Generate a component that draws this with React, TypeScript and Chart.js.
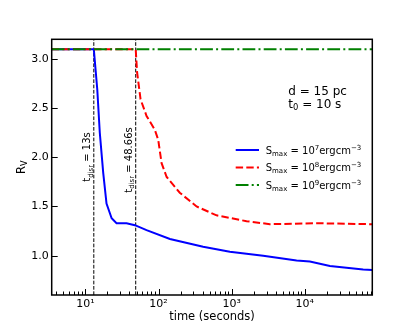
import React, { useEffect, useRef } from 'react';
import { Chart, registerables } from 'chart.js';

Chart.register(...registerables);

// ---- data ----
const blueT = [3.45, 13, 14.5, 15.7, 17.5, 19.4, 22.8, 26.6, 36.5, 47.4, 68.5, 143, 407, 944, 2700, 7730, 11750, 22100, 63000, 84000];
const blueR = [3.1, 3.1, 2.69, 2.25, 1.84, 1.53, 1.38, 1.33, 1.33, 1.31, 1.26, 1.17, 1.09, 1.04, 1.0, 0.95, 0.94, 0.895, 0.86, 0.855];

const redT = [3.45, 48.66, 50.9, 56.7, 68.5, 88.9, 98.8, 110, 129, 195, 331, 621, 1600, 3330, 14500, 84000];
const redR = [3.1, 3.1, 2.86, 2.59, 2.42, 2.28, 2.18, 1.94, 1.8, 1.64, 1.5, 1.41, 1.35, 1.32, 1.33, 1.32];

const greenT = [3.45, 84000];
const greenR = [3.1, 3.1];

const seriesExp = ['7', '8', '9'];
const disruptTimes = [13, 48.66];
const disruptLabels = ['13s', '48.66s'];

const xMin = 3.45;
const xMax = 84000;
const yMin = 0.6;
const yMax = 3.2;
const yTicks = [1.0, 1.5, 2.0, 2.5, 3.0];
const xMajor = [10, 100, 1000, 10000];
const supDigits: Record<string, string> = { '0': '⁰', '1': '¹', '2': '²', '3': '³', '4': '⁴', '5': '⁵' };

const FONT = "'DejaVu Sans', sans-serif";

type Seg = { t: string; k?: 'sub' | 'sup' };

function segFont(size: number, k?: string) {
  return `${k ? size * 0.7 : size}px ${FONT}`;
}
function richWidth(ctx: CanvasRenderingContext2D, segs: Seg[], size: number) {
  let w = 0;
  for (const s of segs) {
    ctx.font = segFont(size, s.k);
    w += ctx.measureText(s.t).width;
  }
  return w;
}
function drawRich(ctx: CanvasRenderingContext2D, segs: Seg[], x: number, y: number, size: number, align: 'left' | 'center' | 'right' = 'left') {
  const w = richWidth(ctx, segs, size);
  let cx = align === 'center' ? x - w / 2 : align === 'right' ? x - w : x;
  ctx.textBaseline = 'alphabetic';
  ctx.textAlign = 'left';
  for (const s of segs) {
    ctx.font = segFont(size, s.k);
    const dy = s.k === 'sub' ? size * 0.22 : s.k === 'sup' ? -size * 0.4 : 0;
    ctx.fillText(s.t, cx, y + dy);
    cx += ctx.measureText(s.t).width;
  }
}

const toPts = (t: number[], r: number[]) => t.map((v, i) => ({ x: v, y: r[i] }));

const decorPlugin = {
  id: 'decor',
  afterDraw(chart: any) {
    const ctx: CanvasRenderingContext2D = chart.ctx;
    const { left, right, top, bottom } = chart.chartArea;
    const xs = chart.scales.x;
    const ys = chart.scales.y;
    ctx.save();
    ctx.fillStyle = '#000';
    ctx.strokeStyle = '#000';

    // inward ticks
    ctx.lineWidth = 1;
    ctx.beginPath();
    for (const v of yTicks) {
      const y = Math.round(ys.getPixelForValue(v)) + 0.5;
      ctx.moveTo(left, y);
      ctx.lineTo(left + 6, y);
    }
    for (let e = 0; e <= 5; e++) {
      for (let k = 1; k <= 9; k++) {
        const v = k * Math.pow(10, e);
        if (v < xMin || v > xMax) continue;
        const x = Math.round(xs.getPixelForValue(v)) + 0.5;
        const len = k === 1 ? 6 : 3.5;
        ctx.moveTo(x, bottom);
        ctx.lineTo(x, bottom - len);
      }
    }
    ctx.stroke();

    // frame
    ctx.lineWidth = 1.5;
    ctx.strokeRect(left, top, right - left, bottom - top);

    // disruption labels (rotated)
    const labY = [157, 160];
    disruptTimes.forEach((t, i) => {
      const px = xs.getPixelForValue(t);
      ctx.save();
      ctx.translate(px - 3.5, labY[i]);
      ctx.rotate(-Math.PI / 2);
      drawRich(ctx, [{ t: 't' }, { t: 'disr', k: 'sub' }, { t: ' = ' + disruptLabels[i] }], 0, 0, 10, 'center');
      ctx.restore();
    });

    // axis titles
    drawRich(ctx, [{ t: 'time (seconds)' }], (left + right) / 2, 319.5, 11.5, 'center');
    ctx.save();
    ctx.translate(24.5, (top + bottom) / 2);
    ctx.rotate(-Math.PI / 2);
    drawRich(ctx, [{ t: 'R' }, { t: 'V', k: 'sub' }], 0, 0, 11.5, 'center');
    ctx.restore();

    // info text
    drawRich(ctx, [{ t: 'd = 15 pc' }], 288.3, 94.5, 12);
    drawRich(ctx, [{ t: 't' }, { t: '0', k: 'sub' }, { t: ' = 10 s' }], 288.3, 107.5, 12);

    // legend
    const colors = ['#0000ff', '#ff0000', '#008000'];
    const dashes = [[], [7.4, 3.2], [12.8, 3.2, 2, 3.2]];
    const rows = [150, 167.5, 185];
    chart.data.datasets.slice(0, 3).forEach((_: any, i: number) => {
      ctx.save();
      ctx.strokeStyle = colors[i];
      ctx.lineWidth = 2;
      ctx.setLineDash(dashes[i]);
      ctx.beginPath();
      ctx.moveTo(235.7, rows[i]);
      ctx.lineTo(259, rows[i]);
      ctx.stroke();
      ctx.restore();
      drawRich(ctx, [{ t: 'S' }, { t: 'max', k: 'sub' }, { t: ' = 10' }, { t: seriesExp[i], k: 'sup' }, { t: 'ergcm' }, { t: '−3', k: 'sup' }], 265.7, rows[i] + 3.5, 10);
    });

    ctx.restore();
  },
};

export default function App() {
  const ref = useRef<HTMLCanvasElement>(null);
  useEffect(() => {
    if (!ref.current) return;
    const chart = new Chart(ref.current, {
      type: 'line',
      data: {
        datasets: [
          { label: 'blue', data: toPts(blueT, blueR), borderColor: '#0000ff', borderWidth: 2, pointRadius: 0, fill: false, order: 2 },
          { label: 'red', data: toPts(redT, redR), borderColor: '#ff0000', borderWidth: 2, borderDash: [7.4, 3.2], pointRadius: 0, fill: false, order: 1 },
          { label: 'green', data: toPts(greenT, greenR), borderColor: '#008000', borderWidth: 2, borderDash: [12.8, 3.2, 2, 3.2], pointRadius: 0, fill: false, order: 0 },
          ...disruptTimes.map((t) => ({
            label: 'disr' + t,
            data: [{ x: t, y: yMin }, { x: t, y: yMax }],
            borderColor: '#000',
            borderWidth: 1,
            borderDash: [3.7, 1.6],
            pointRadius: 0,
            fill: false,
            order: 3,
          })),
        ],
      },
      options: {
        animation: false,
        responsive: false,
        devicePixelRatio: 1,
        layout: { padding: { left: 0, top: 39.3, right: 42.7, bottom: 0 } },
        plugins: { legend: { display: false }, tooltip: { enabled: false } },
        elements: { line: { tension: 0 } },
        scales: {
          x: {
            type: 'logarithmic',
            min: xMin,
            max: xMax,
            grid: { display: false, drawTicks: false },
            border: { display: false },
            afterBuildTicks: (s: any) => {
              s.ticks = xMajor.map((v) => ({ value: v, major: true }));
            },
            afterFit: (s: any) => {
              s.height = 37;
            },
            ticks: {
              autoSkip: false,
              maxRotation: 0,
              padding: 3,
              color: '#000',
              font: { family: 'DejaVu Sans', size: 11 },
              callback: (v: any) => '10' + supDigits[String(Math.round(Math.log10(Number(v))))],
            },
          },
          y: {
            type: 'linear',
            min: yMin,
            max: yMax,
            grid: { display: false, drawTicks: false },
            border: { display: false },
            afterBuildTicks: (s: any) => {
              s.ticks = yTicks.map((v) => ({ value: v }));
            },
            afterFit: (s: any) => {
              s.width = 51.7;
            },
            ticks: {
              padding: 3,
              color: '#000',
              font: { family: 'DejaVu Sans', size: 11 },
              callback: (v: any) => Number(v).toFixed(1),
            },
          },
        },
      },
      plugins: [decorPlugin],
    } as any);
    return () => chart.destroy();
  }, []);
  return (
    <div style={{ position: 'absolute', left: 0, top: 0, width: 415, height: 332, background: '#fff' }}>
      <canvas ref={ref} width={415} height={332} />
    </div>
  );
}
